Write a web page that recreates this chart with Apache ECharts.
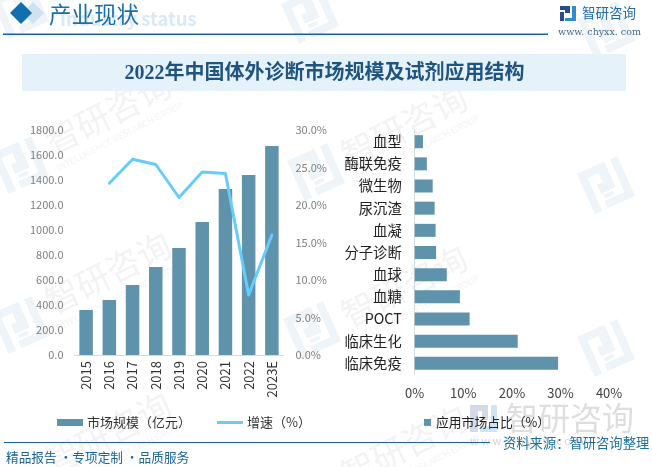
<!DOCTYPE html>
<html><head><meta charset="utf-8">
<style>html,body{margin:0;padding:0;background:#fff}#c{width:652px;height:467px}</style>
<script src="https://cdn.jsdelivr.net/npm/echarts@6/dist/echarts.min.js"></script>
</head><body><div id="c"></div>
<script>
const years = ['2015','2016','2017','2018','2019','2020','2021','2022','2023E'];
const marketSize = [360,440,560,704,856,1064,1328,1440,1672];
const growth = [null,22.9,26.1,25.4,21.0,24.4,24.2,8.0,16.0];
const segments = ['临床免疫','临床生化','POCT','血糖','血球','分子诊断','血凝','尿沉渣','微生物','酶联免疫','血型'];
const shares = [29.5,21.2,11.3,9.3,6.6,4.4,4.3,4.1,3.7,2.5,1.7];
const barColor = '#5F93AB', lineColor = '#66CCFA', font = '"Noto Sans CJK SC","Noto Sans",sans-serif';

function markTile(x,y,s,fill){
  return {type:'group',x:x,y:y,rotation:0.42,scaleX:s,scaleY:s,z:0,children:[
    {type:'polygon',shape:{points:[[-22,-22],[8,-22],[8,6],[-8,6],[-8,-4],[-2,-4],[-2,-14],[-14,-14],[-14,22],[-22,22]]},style:{fill:fill}},
    {type:'polygon',shape:{points:[[14,-22],[22,-22],[22,22],[-8,22],[-8,14],[14,14]]},style:{fill:fill}},
    {type:'rect',shape:{x:-6,y:8,width:10,height:4},style:{fill:fill}}
  ]};
}
function wmText(cx,cy){
  return {type:'group',x:cx,y:cy,rotation:0.47,z:0,children:[
    {type:'text',x:0,y:0,style:{text:'智研咨询',font:'34px '+font,fill:'#F3F3F5',textAlign:'center',textVerticalAlign:'middle'}},
    {type:'text',x:0,y:26,style:{text:'INTELLIGENCE RESEARCH GROUP',font:'9px '+font,fill:'#F3F3F5',textAlign:'center',textVerticalAlign:'middle'}}
  ]};
}
const wm = [];
[[20,165],[316,172],[606,185],[20,325],[312,330],[606,348],[310,15],[606,30],[20,10]].forEach(p=>wm.push(markTile(p[0],p[1],1,'#EFF4F8')));
[[108,113],[108,273],[108,433],[404,126],[404,286],[404,446]].forEach(p=>wm.push(wmText(p[0],p[1])));

const header = [
  {type:'polygon',z:1,shape:{points:[[33,2],[44,13],[33,24],[22,13]]},style:{fill:'#CFE2F0'}},
  {type:'polygon',z:1,shape:{points:[[21,2],[32,13],[21,24],[10,13]]},style:{fill:'#126FAE'}},
  {type:'text',z:1,x:60,y:19,style:{text:'Industry status',font:'bold 18.5px '+font,fill:'#D9EAF6',textVerticalAlign:'middle'}},
  {type:'text',z:2,x:49,y:14,style:{text:'产业现状',font:'22.5px '+font,fill:'#1A6FA8',textVerticalAlign:'middle'}},
  {type:'rect',z:1,shape:{x:3,y:33.5,width:545,height:1.5},style:{fill:'#0F66A5'}},
  {type:'rect',z:1,shape:{x:22,y:54,width:604,height:37},style:{fill:'#E6F2FA'}},
  {type:'text',z:2,x:324.5,y:74,style:{text:'2022年中国体外诊断市场规模及试剂应用结构',font:'bold 20px "Liberation Serif","Noto Sans CJK SC",serif',fill:'#1F5480',textAlign:'center',textVerticalAlign:'middle'}},
  {type:'polygon',z:2,shape:{points:[[560,6],[570,6],[570,13],[565,13],[565,10],[560,10]]},style:{fill:'#2A4A8C'}},
  {type:'rect',z:2,shape:{x:560,y:12,width:4,height:9},style:{fill:'#2A4A8C'}},
  {type:'polygon',z:2,shape:{points:[[572,6],[576,6],[576,21],[565,21],[565,18],[572,18]]},style:{fill:'#2E8FD0'}},
  {type:'text',z:2,x:582,y:13,style:{text:'智研咨询',font:'13.5px '+font,fill:'#1F6CA8',textVerticalAlign:'middle'}},
  {type:'text',z:2,x:558,y:33,style:{text:'www. chyxx. com',font:'9.5px "DejaVu Serif",serif',fill:'#44688C',textVerticalAlign:'middle'}},
  {type:'rect',z:0,shape:{x:470,y:405,width:8,height:27},style:{fill:'#D3DBE8'}},
  {type:'polygon',z:0,shape:{points:[[470,405],[488,405],[488,420],[482,420],[482,411],[470,411]]},style:{fill:'#D3DBE8'}},
  {type:'polygon',z:0,shape:{points:[[491,405],[497,405],[497,432],[480,432],[480,426],[491,426]]},style:{fill:'#CFE5F5'}},
  {type:'text',z:0,x:506,y:418,style:{text:'智研咨询',font:'32px '+font,fill:'#DEDEDE',textVerticalAlign:'middle'}},
  {type:'text',z:0,x:470,y:441,style:{text:'w w w . c h y x x . c o m',font:'11px '+font,fill:'#D5D5D5',textVerticalAlign:'middle'}},
  {type:'rect',z:5,shape:{x:4,y:442,width:486,height:1},style:{fill:'#1A6496'}},
  {type:'text',z:5,x:6,y:457,style:{text:'精品报告 ·专项定制 ·品质服务',font:'12.7px '+font,fill:'#1A6496',textVerticalAlign:'middle'}},
  {type:'text',z:5,x:503,y:443,style:{text:'资料来源：智研咨询整理',font:'13.3px '+font,fill:'#1A6F9F',textVerticalAlign:'middle'}}
];

const chart = echarts.init(document.getElementById('c'),null,{renderer:'canvas'});
chart.setOption({
  animation:false,
  backgroundColor:'#fff',
  textStyle:{fontFamily:font},
  graphic:{elements:wm.concat(header)},
  legend:[
    {left:52,top:411,itemWidth:26,itemHeight:7,itemGap:26,data:[{name:'市场规模（亿元）',icon:'rect'},{name:'增速（%）',icon:'path://M0,0H26V3H0Z'}],textStyle:{fontSize:13,color:'#333',fontFamily:font,padding:[0,0,0,-1]}},
    {left:419,top:411,itemWidth:7,itemHeight:7,data:[{name:'应用市场占比（%）',icon:'rect'}],textStyle:{fontSize:12.8,color:'#222',fontFamily:font}}
  ],
  grid:[
    {left:74.5,width:209,top:130,height:225},
    {left:414.7,width:194.4,top:130.6,height:243.8}
  ],
  xAxis:[
    {type:'category',gridIndex:0,data:years,axisTick:{show:false},axisLine:{lineStyle:{color:'#D9D9D9'}},axisLabel:{rotate:90,fontSize:13,color:'#333',margin:6,interval:0}},
    {type:'value',gridIndex:1,min:0,max:40,interval:10,splitLine:{show:false},axisLine:{show:false},axisTick:{show:false},axisLabel:{formatter:'{value}%',fontSize:13,color:'#404040',margin:12}}
  ],
  yAxis:[
    {type:'value',gridIndex:0,min:0,max:1800,interval:200,splitLine:{show:false},axisLine:{show:false},axisTick:{show:false},axisLabel:{formatter:v=>v.toFixed(1),fontSize:11,color:'#7F7F7F',margin:11}},
    {type:'value',gridIndex:0,position:'right',min:0,max:30,interval:5,splitLine:{show:false},axisLine:{show:false},axisTick:{show:false},axisLabel:{formatter:v=>v.toFixed(1)+'%',fontSize:11,color:'#7F7F7F',margin:12}},
    {type:'category',gridIndex:1,data:segments,axisTick:{show:false},axisLine:{show:true,lineStyle:{color:'#D9D9D9'}},axisLabel:{fontSize:14.3,color:'#222',margin:13,interval:0}}
  ],
  series:[
    {name:'市场规模（亿元）',type:'bar',xAxisIndex:0,yAxisIndex:0,data:marketSize,barWidth:13.5,itemStyle:{color:barColor},z:3},
    {name:'增速（%）',type:'line',xAxisIndex:0,yAxisIndex:1,data:growth,showSymbol:false,symbol:'none',lineStyle:{color:lineColor,width:3,cap:'round',join:'round'},itemStyle:{color:lineColor},z:4},
    {name:'应用市场占比（%）',type:'bar',xAxisIndex:1,yAxisIndex:2,data:shares,barWidth:13,itemStyle:{color:barColor},z:3}
  ]
});
</script></body></html>
